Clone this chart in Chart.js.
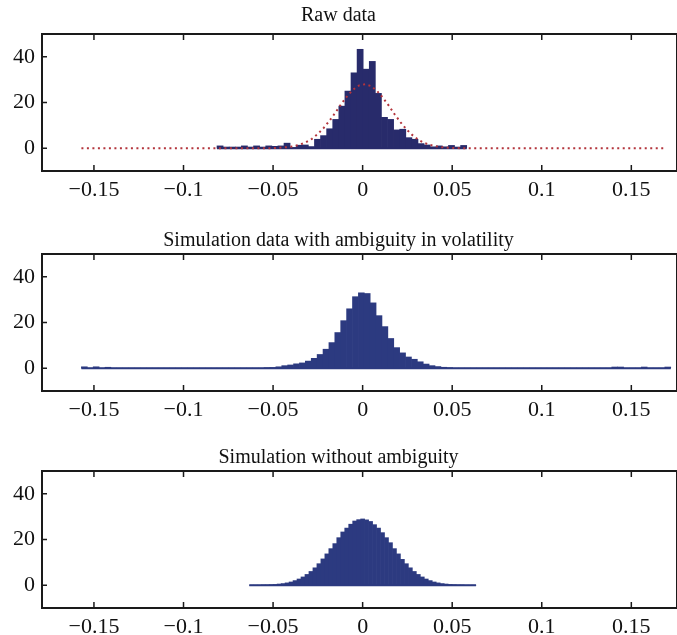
<!DOCTYPE html>
<html>
<head>
<meta charset="utf-8">
<script src="https://cdn.jsdelivr.net/npm/chart.js@4.4.1/dist/chart.umd.min.js"></script>
<style>
  html, body { margin: 0; padding: 0; background: #fff; }
  body { width: 677px; height: 635px; position: relative; overflow: hidden; }
  .panel { position: absolute; left: 0; width: 677px; }
</style>
</head>
<body>
<div class="panel" style="top:0px;height:218px"><canvas id="rawChart" width="677" height="218"></canvas></div>
<div class="panel" style="top:220px;height:218px"><canvas id="ambChart" width="677" height="218"></canvas></div>
<div class="panel" style="top:437px;height:198px"><canvas id="plainChart" width="677" height="198"></canvas></div>
<script>
const titles = ['Raw data', 'Simulation data with ambiguity in volatility', 'Simulation without ambiguity'];
const xTicks = [-0.15, -0.1, -0.05, 0, 0.05, 0.1, 0.15];
const xTickLabels = ['\u22120.15', '\u22120.1', '\u22120.05', '0', '0.05', '0.1', '0.15'];
const yTicks = [0, 20, 40];
const yTickLabels = ['0', '20', '40'];

// raw data histogram
const rawBinStart = -0.0813;
const rawBinWidth = 0.0034;
const rawCounts = [
  1, 0.5, 0.5, 0.5, 1, 0.5, 1, 0.5, 1, 0.8,
  1, 2.2, 0.3, 1.3, 1.4, 0.7, 3.9, 5.5, 8.5, 12.6,
  18.4, 25, 33, 43.3, 34.6, 38, 24, 13.5, 12.6, 8,
  8.3, 4.6, 3.9, 2, 1.4, 0.6, 1, 0.6, 1.2, 0.5, 1.2
];

// fitted curve (dotted)
const fitStart = -0.157;
const fitStep = 0.0033;
const fitValues = [
  0, 0, 0, 0, 0, 0, 0, 0, 0, 0,
  0, 0, 0, 0, 0, 0, 0, 0, 0, 0,
  0, 0, 0, 0, 0, 0, 0, 0, 0, 0,
  0, 0, 0, 0.1, 0.3, 0.5, 0.9, 1.6, 2.6, 4.1,
  6.2, 8.9, 12.1, 15.7, 19.5, 22.9, 25.7, 27.5, 28, 27.2,
  25.1, 22.1, 18.6, 14.8, 11.3, 8.2, 5.7, 3.7, 2.3, 1.4,
  0.8, 0.4, 0.2, 0.1, 0, 0, 0, 0, 0, 0,
  0, 0, 0, 0, 0, 0, 0, 0, 0, 0,
  0, 0, 0, 0, 0, 0, 0, 0, 0, 0,
  0, 0, 0, 0, 0, 0, 0, 0, 0, 0
];

// simulation with ambiguity in volatility
const ambBinStart = -0.157;
const ambBinWidth = 0.00329;
const ambCounts = [
  0.6, 0, 0.6, 0, 0.4, 0, 0, 0, 0, 0,
  0, 0, 0, 0, 0, 0, 0, 0, 0, 0,
  0, 0, 0, 0, 0, 0, 0, 0, 0, 0,
  0, 0.2, 0.3, 0.6, 1.1, 1.4, 1.9, 2.3, 3.1, 4.3,
  6, 8.3, 11.2, 15.6, 20.8, 26, 31.3, 33, 32.7, 28.6,
  23, 18.2, 13, 9, 6.7, 4.9, 3.9, 2.8, 1.8, 1.1,
  0.7, 0.4, 0.2, 0, 0, 0, 0, 0, 0, 0,
  0, 0, 0, 0, 0, 0, 0, 0, 0, 0,
  0, 0, 0, 0, 0, 0, 0, 0, 0, 0,
  0.5, 0.5, 0, 0, 0, 0.5, 0, 0, 0, 0.5
];

// simulation without ambiguity
const plainBinStart = -0.06327;
const plainBinWidth = 0.00222;
const plainCounts = [
  0, 0, 0, 0.1, 0.1, 0.2, 0.3, 0.5, 0.7, 1.0,
  1.4, 2.0, 2.7, 3.6, 4.7, 6.0, 7.6, 9.4, 11.5, 13.7,
  16.0, 18.2, 20.8, 23.3, 25.0, 26.7, 28.1, 28.7, 29.0, 28.6,
  27.9, 26.5, 25.0, 23.0, 20.8, 18.6, 16.0, 13.7, 11.3, 9.4,
  7.6, 6.0, 4.7, 3.6, 2.7, 2.0, 1.4, 1.0, 0.7, 0.5,
  0.3, 0.2, 0.1, 0.1, 0, 0, 0
];

const serif = 'Liberation Serif, Times New Roman, serif';
const AREA_TOP = 34;
const AREA_H = 137;

function toBins(start, width, counts) {
  return counts.map((c, i) => ({ x: start + width * (i + 0.5), y: c }));
}
function baseline(start, width, counts) {
  return [{ x: start, y: 0 }, { x: start + width * counts.length, y: 0 }];
}

const framePlugin = {
  id: 'frame',
  afterDraw(chart) {
    const { ctx, chartArea: a } = chart;
    const x = chart.scales.x, y = chart.scales.y;
    ctx.save();
    ctx.strokeStyle = '#1a1a1a';
    ctx.lineWidth = 1.5;
    ctx.beginPath();
    x.ticks.forEach(t => {
      const px = x.getPixelForValue(t.value);
      ctx.moveTo(px, a.bottom); ctx.lineTo(px, a.bottom - 6);
      ctx.moveTo(px, a.top); ctx.lineTo(px, a.top + 6);
    });
    y.ticks.forEach(t => {
      const py = y.getPixelForValue(t.value);
      ctx.moveTo(a.left, py); ctx.lineTo(a.left + 5, py);
    });
    ctx.stroke();
    ctx.lineWidth = 2;
    ctx.strokeRect(a.left, a.top, a.right - a.left, a.bottom - a.top);
    ctx.restore();
  }
};

// titlePad: [top, bottom], sums with the 24px line to AREA_TOP
function makeHist(id, title, titlePad, datasets) {
  const canvas = document.getElementById(id);
  const h = canvas.height;
  new Chart(canvas.getContext('2d'), {
    type: 'bar',
    data: { datasets: datasets },
    options: {
      responsive: false,
      animation: false,
      layout: { padding: 0 },
      scales: {
        x: {
          type: 'linear',
          min: -0.179,
          max: 0.1755,
          offset: false,
          grid: { display: false, drawTicks: false },
          border: { display: false },
          afterBuildTicks: s => { s.ticks = xTicks.map(v => ({ value: v })); },
          afterFit: s => { s.height = h - AREA_TOP - AREA_H; },
          ticks: {
            padding: 6,
            maxRotation: 0,
            autoSkip: false,
            color: '#111',
            font: { family: serif, size: 22 },
            callback: (v, i) => xTickLabels[i]
          }
        },
        y: {
          min: -10,
          max: 50,
          grid: { display: false, drawTicks: false },
          border: { display: false },
          afterBuildTicks: s => { s.ticks = yTicks.map(v => ({ value: v })); },
          afterFit: s => { s.width = 42; },
          ticks: {
            padding: 7,
            color: '#111',
            font: { family: serif, size: 22 },
            callback: (v, i) => yTickLabels[i]
          }
        }
      },
      plugins: {
        legend: { display: false },
        tooltip: { enabled: false },
        title: {
          display: true,
          text: title,
          color: '#111',
          font: { family: serif, size: 20, weight: 'normal' },
          padding: { top: titlePad[0], bottom: titlePad[1] }
        }
      }
    },
    plugins: [framePlugin]
  });
}

function histSet(start, width, counts, color) {
  return {
    type: 'bar',
    data: toBins(start, width, counts),
    backgroundColor: color,
    borderWidth: 0,
    barPercentage: 1,
    categoryPercentage: 1,
    order: 2
  };
}
function baseSet(start, width, counts, color) {
  return {
    type: 'line',
    data: baseline(start, width, counts),
    borderColor: color,
    borderWidth: 2,
    pointRadius: 0,
    order: 1
  };
}

const rawColor = '#282b6b';
const simColor = '#2c3a80';

makeHist('rawChart', titles[0], [4, 6], [
  {
    type: 'line',
    data: fitValues.map((v, i) => ({ x: fitStart + fitStep * i, y: v })),
    borderColor: '#b3343c',
    borderWidth: 2,
    borderDash: [2, 3.5],
    pointRadius: 0,
    tension: 0,
    order: 0
  },
  baseSet(rawBinStart, rawBinWidth, rawCounts, rawColor),
  histSet(rawBinStart, rawBinWidth, rawCounts, rawColor)
]);

makeHist('ambChart', titles[1], [9, 1], [
  baseSet(ambBinStart, ambBinWidth, ambCounts, simColor),
  histSet(ambBinStart, ambBinWidth, ambCounts, simColor)
]);

makeHist('plainChart', titles[2], [9, 1], [
  baseSet(plainBinStart, plainBinWidth, plainCounts, simColor),
  histSet(plainBinStart, plainBinWidth, plainCounts, simColor)
]);
</script>
</body>
</html>
